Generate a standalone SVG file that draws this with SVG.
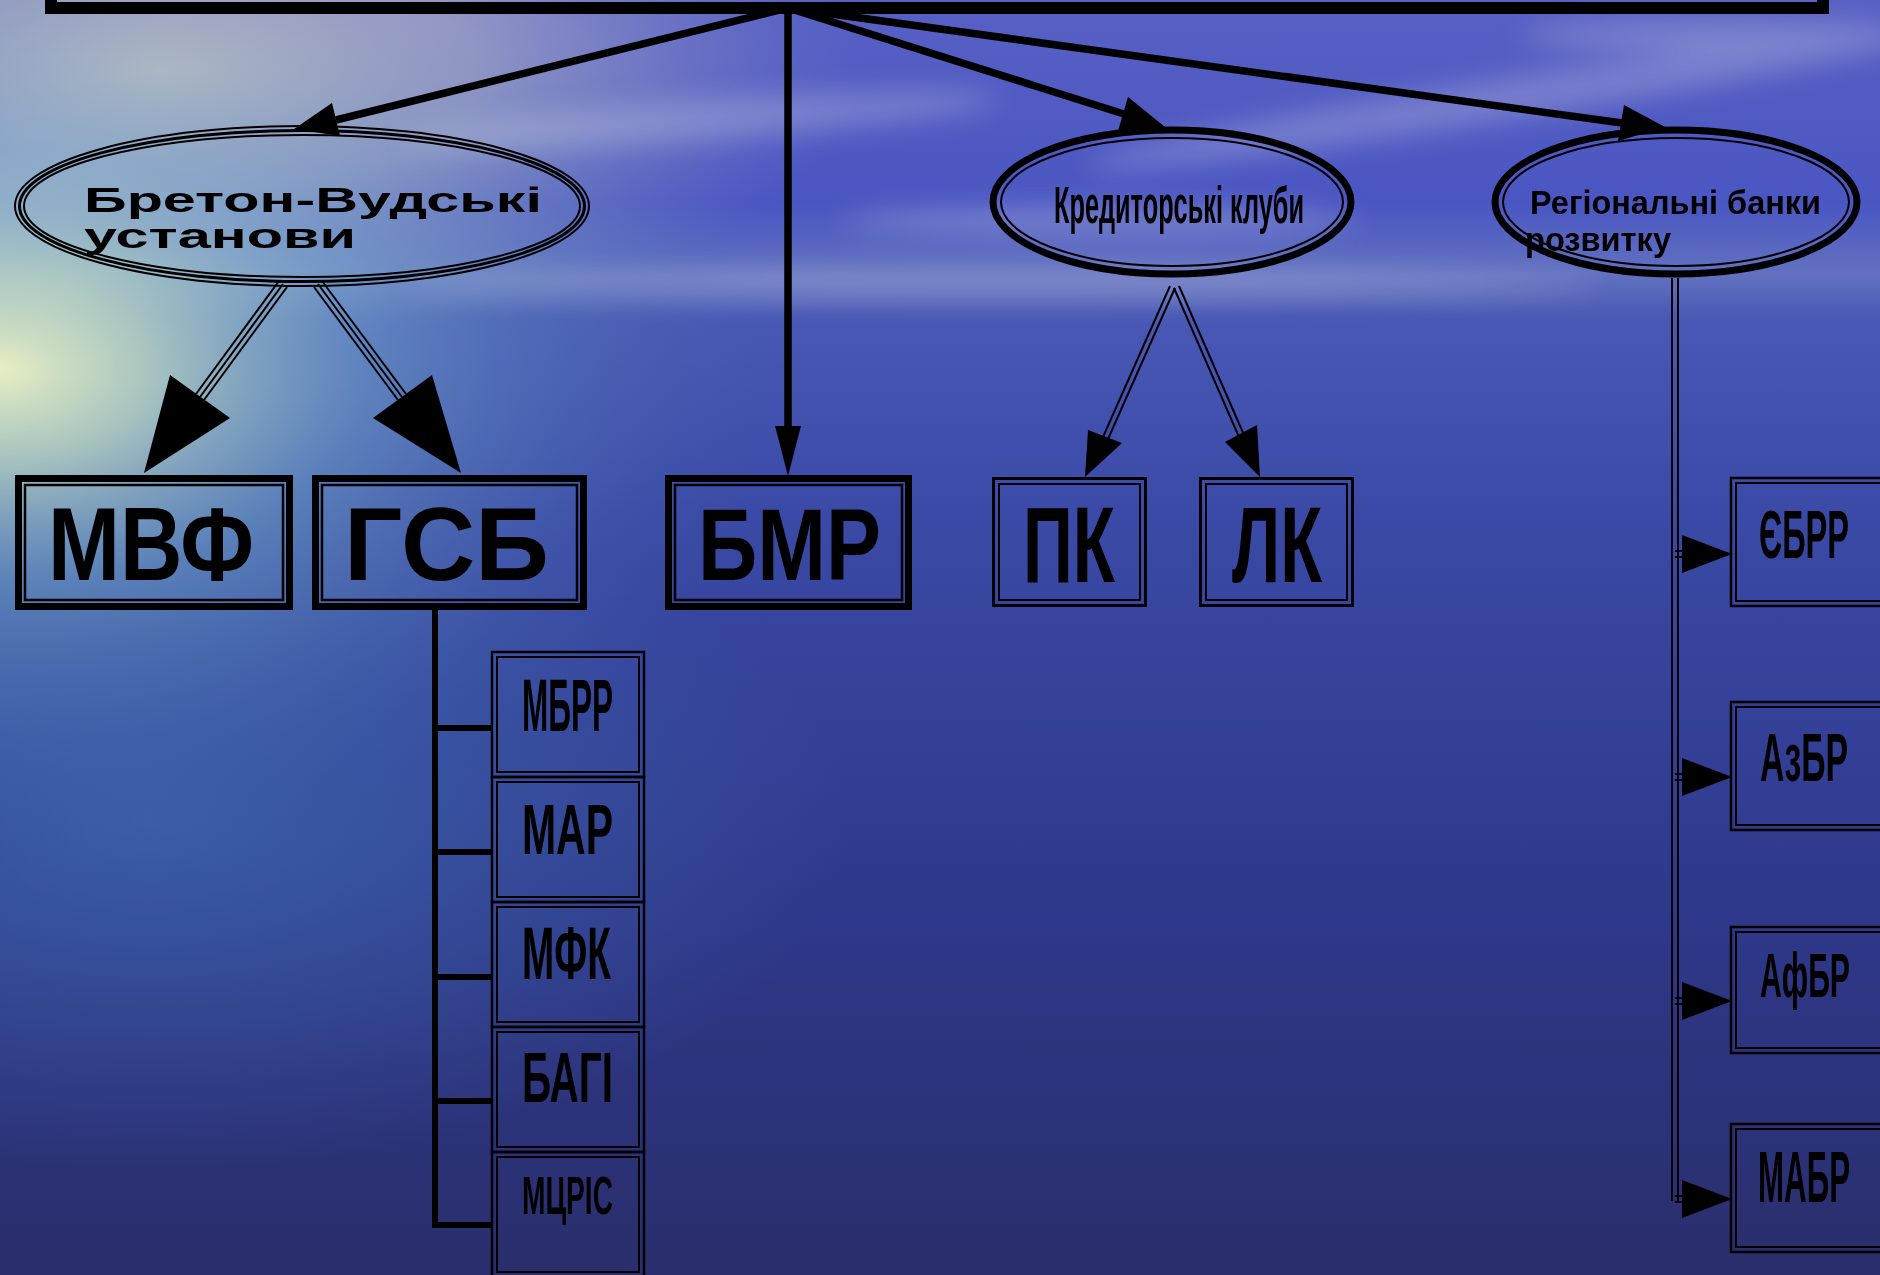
<svg xmlns="http://www.w3.org/2000/svg" width="1880" height="1275" viewBox="0 0 1880 1275">
<defs>
<linearGradient id="bgV" x1="0" y1="0" x2="0" y2="1275" gradientUnits="userSpaceOnUse">
 <stop offset="0" stop-color="#5860c4"/>
 <stop offset="0.16" stop-color="#4a56c2"/>
 <stop offset="0.215" stop-color="#6272c0"/>
 <stop offset="0.25" stop-color="#4858b4"/>
 <stop offset="0.4" stop-color="#3a4aa6"/>
 <stop offset="0.7" stop-color="#2f398c"/>
 <stop offset="1" stop-color="#2a2e6c"/>
</linearGradient>
<radialGradient id="glow" cx="0" cy="0" r="800" gradientUnits="userSpaceOnUse" gradientTransform="translate(0,370) scale(1,0.6)">
 <stop offset="0" stop-color="#f0f6c4" stop-opacity="0.95"/>
 <stop offset="0.18" stop-color="#c4e2c4" stop-opacity="0.8"/>
 <stop offset="0.45" stop-color="#7ab2cc" stop-opacity="0.5"/>
 <stop offset="1" stop-color="#4060b0" stop-opacity="0"/>
</radialGradient>
<radialGradient id="skyL" cx="0" cy="0" r="700" gradientUnits="userSpaceOnUse" gradientTransform="translate(160,70) scale(1,0.4)">
 <stop offset="0" stop-color="#cfcac4" stop-opacity="0.97"/>
 <stop offset="0.45" stop-color="#b4b4c6" stop-opacity="0.7"/>
 <stop offset="1" stop-color="#8088c8" stop-opacity="0"/>
</radialGradient>
<radialGradient id="seaL" cx="0" cy="0" r="700" gradientUnits="userSpaceOnUse" gradientTransform="translate(150,820) scale(1,0.5)">
 <stop offset="0" stop-color="#3f6cb0" stop-opacity="0.7"/>
 <stop offset="1" stop-color="#3f6cb0" stop-opacity="0"/>
</radialGradient>
<filter id="blur" x="-50%" y="-50%" width="200%" height="200%"><feGaussianBlur stdDeviation="14"/></filter>
<style>
 .t{font-family:"Liberation Sans",Arial,sans-serif;font-weight:bold;fill:#000}
 .thick{fill:none;stroke:#000;stroke-width:7}
 .thin{fill:none;stroke:#000;stroke-width:2.5}
 .hair{fill:none;stroke:#000;stroke-width:2}
 .ln{stroke:#000;stroke-width:7.5;fill:none}
 .ln2{stroke:#000;stroke-width:2;fill:none}
 .ln6{stroke:#000;stroke-width:6;fill:none}
 .ah{fill:#000;stroke:none}
</style>
</defs>

<!-- background -->
<rect x="0" y="0" width="1880" height="1275" fill="url(#bgV)"/>
<rect x="0" y="0" width="1880" height="1275" fill="url(#skyL)"/>
<rect x="0" y="0" width="1880" height="1275" fill="url(#seaL)"/>
<rect x="0" y="0" width="1880" height="1275" fill="url(#glow)"/>
<g filter="url(#blur)" fill="#d8d8e8" opacity="0.3">
 <ellipse cx="1500" cy="100" rx="420" ry="20" transform="rotate(-9 1500 100)"/>
 <ellipse cx="700" cy="120" rx="300" ry="20" transform="rotate(-4 700 120)"/>
 <ellipse cx="1000" cy="285" rx="600" ry="14"/>
 <ellipse cx="1720" cy="35" rx="200" ry="16"/>
 <ellipse cx="1100" cy="220" rx="260" ry="14"/>
</g>

<!-- top box (cut off) -->
<g id="top">
 <rect x="51" y="-100" width="1772" height="108" fill="none" stroke="#000" stroke-width="12"/>
</g>

<!-- connectors -->
<g id="connectors">
 <!-- from top box -->
 <line class="ln" x1="788" y1="8" x2="336" y2="120"/>
 <polygon class="ah" points="294,129 332,103 340,136"/>
 <line class="ln" x1="788" y1="8" x2="788" y2="430"/>
 <polygon class="ah" points="788,476 775,426 801,426"/>
 <line class="ln" x1="788" y1="8" x2="1124" y2="114"/>
 <polygon class="ah" points="1165,127 1128,97 1118,131"/>
 <line class="ln" x1="788" y1="8" x2="1622" y2="123"/>
 <polygon class="ah" points="1665,127 1624,105 1618,141"/>

 <!-- Bretton-Woods to МВФ (triple) -->
 <line class="ln2" x1="283" y1="284" x2="200" y2="397"/>
 <line class="ln2" x1="287" y1="287" x2="204" y2="400"/>
 <line class="ln2" x1="279" y1="281" x2="196" y2="394"/>
 <polygon class="ah" points="144,473 170,375 230,418"/>
 <!-- Bretton-Woods to ГСБ (triple) -->
 <line class="ln2" x1="318" y1="284" x2="402" y2="397"/>
 <line class="ln2" x1="322" y1="281" x2="406" y2="394"/>
 <line class="ln2" x1="314" y1="287" x2="398" y2="400"/>
 <polygon class="ah" points="461,473 432,375 373,418"/>

 <!-- Кредиторські клуби to ПК / ЛК (double) -->
 <line class="ln2" x1="1170" y1="286" x2="1103" y2="437"/>
 <line class="ln2" x1="1175" y1="288" x2="1108" y2="439"/>
 <polygon class="ah" points="1085,477 1088,430 1122,443"/>
 <line class="ln2" x1="1174" y1="288" x2="1239" y2="437"/>
 <line class="ln2" x1="1179" y1="286" x2="1244" y2="435"/>
 <polygon class="ah" points="1260,477 1225,442 1257,425"/>

 <!-- ГСБ list bracket -->
 <line class="ln6" x1="435" y1="610" x2="435" y2="1228"/>
 <line class="ln6" x1="432" y1="728" x2="493" y2="728"/>
 <line class="ln6" x1="432" y1="852" x2="493" y2="852"/>
 <line class="ln6" x1="432" y1="977" x2="493" y2="977"/>
 <line class="ln6" x1="432" y1="1101" x2="493" y2="1101"/>
 <line class="ln6" x1="432" y1="1225" x2="493" y2="1225"/>

 <!-- Regional banks vertical (double) -->
 <line class="ln2" x1="1672" y1="278" x2="1672" y2="1201"/>
 <line class="ln2" x1="1678" y1="278" x2="1678" y2="1201"/>
 <g>
  <line class="ln2" x1="1675" y1="551" x2="1684" y2="551"/><line class="ln2" x1="1675" y1="557" x2="1684" y2="557"/>
  <polygon class="ah" points="1682,535 1682,573 1732,554"/>
  <line class="ln2" x1="1675" y1="774" x2="1684" y2="774"/><line class="ln2" x1="1675" y1="780" x2="1684" y2="780"/>
  <polygon class="ah" points="1682,758 1682,796 1732,777"/>
  <line class="ln2" x1="1675" y1="998" x2="1684" y2="998"/><line class="ln2" x1="1675" y1="1004" x2="1684" y2="1004"/>
  <polygon class="ah" points="1682,982 1682,1020 1732,1001"/>
  <line class="ln2" x1="1675" y1="1196" x2="1684" y2="1196"/><line class="ln2" x1="1675" y1="1202" x2="1684" y2="1202"/>
  <polygon class="ah" points="1682,1180 1682,1218 1732,1199"/>
 </g>
</g>

<!-- ellipses -->
<g id="bretton">
 <ellipse cx="302" cy="206" rx="287" ry="80" class="hair"/>
 <ellipse cx="302" cy="206" rx="282.5" ry="75.5" fill="none" stroke="#000" stroke-width="3"/>
 <ellipse cx="302" cy="206" rx="278" ry="71" class="hair"/>
 <text class="t" x="84" y="212" font-size="35" textLength="458" lengthAdjust="spacingAndGlyphs">Бретон-Вудські</text>
 <text class="t" x="84" y="248" font-size="35" textLength="272" lengthAdjust="spacingAndGlyphs">установи</text>
</g>
<g id="kredytorski">
 <ellipse cx="1172" cy="202" rx="179" ry="72" fill="none" stroke="#000" stroke-width="7"/>
 <ellipse cx="1172" cy="202" rx="171" ry="64" class="hair"/>
 <text class="t" x="1054" y="223" font-size="51" textLength="250" lengthAdjust="spacingAndGlyphs">Кредиторські клуби</text>
</g>
<g id="regionalni">
 <ellipse cx="1676" cy="202" rx="181" ry="72" fill="none" stroke="#000" stroke-width="7"/>
 <ellipse cx="1676" cy="202" rx="173" ry="64" class="hair"/>
 <text class="t" x="1530" y="214" font-size="33" textLength="291" lengthAdjust="spacingAndGlyphs">Регіональні банки</text>
 <text class="t" x="1525" y="251" font-size="33" textLength="146" lengthAdjust="spacingAndGlyphs">розвитку</text>
</g>

<!-- first-row boxes -->
<g id="mvf">
 <rect x="18.5" y="478.5" width="271" height="128" class="thick"/>
 <rect x="25" y="485" width="258" height="115" class="thin"/>
 <text class="t" x="48" y="580" font-size="104" textLength="206" lengthAdjust="spacingAndGlyphs">МВФ</text>
</g>
<g id="gsb">
 <rect x="315.5" y="478.5" width="268" height="128" class="thick"/>
 <rect x="322" y="485" width="255" height="115" class="thin"/>
 <text class="t" x="344" y="580" font-size="104" textLength="205" lengthAdjust="spacingAndGlyphs">ГСБ</text>
</g>
<g id="bmr">
 <rect x="668.5" y="478.5" width="240" height="128" class="thick"/>
 <rect x="675" y="485" width="227" height="115" class="thin"/>
 <text class="t" x="698" y="580" font-size="102" textLength="183" lengthAdjust="spacingAndGlyphs">БМР</text>
</g>
<g id="pk">
 <rect x="993.5" y="478.5" width="152" height="127" fill="none" stroke="#000" stroke-width="3"/>
 <rect x="999" y="484" width="141" height="116" class="hair"/>
 <text class="t" x="1023" y="582" font-size="107" textLength="92" lengthAdjust="spacingAndGlyphs">ПК</text>
</g>
<g id="lk">
 <rect x="1200.5" y="478.5" width="152" height="127" fill="none" stroke="#000" stroke-width="3"/>
 <rect x="1206" y="484" width="141" height="116" class="hair"/>
 <text class="t" x="1232" y="582" font-size="107" textLength="90" lengthAdjust="spacingAndGlyphs">ЛК</text>
</g>

<!-- ГСБ members -->
<g id="mbrr">
 <rect x="492" y="652" width="152" height="125" class="thin"/>
 <rect x="497" y="657" width="142" height="115" class="hair"/>
 <text class="t" x="522" y="731" font-size="74" textLength="91" lengthAdjust="spacingAndGlyphs">МБРР</text>
</g>
<g id="mar">
 <rect x="492" y="777" width="152" height="125" class="thin"/>
 <rect x="497" y="782" width="142" height="115" class="hair"/>
 <text class="t" x="522" y="854" font-size="71" textLength="91" lengthAdjust="spacingAndGlyphs">МАР</text>
</g>
<g id="mfk">
 <rect x="492" y="902" width="152" height="125" class="thin"/>
 <rect x="497" y="907" width="142" height="115" class="hair"/>
 <text class="t" x="522" y="979" font-size="74" textLength="89" lengthAdjust="spacingAndGlyphs">МФК</text>
</g>
<g id="bagi">
 <rect x="492" y="1027" width="152" height="125" class="thin"/>
 <rect x="497" y="1032" width="142" height="115" class="hair"/>
 <text class="t" x="522" y="1102" font-size="70" textLength="91" lengthAdjust="spacingAndGlyphs">БАГІ</text>
</g>
<g id="mtsris">
 <rect x="492" y="1152" width="152" height="125" class="thin"/>
 <rect x="497" y="1157" width="142" height="115" class="hair"/>
 <text class="t" x="522" y="1214" font-size="54" textLength="91" lengthAdjust="spacingAndGlyphs">МЦРІС</text>
</g>

<!-- regional banks (boxes run past the right edge) -->
<g id="yebrr">
 <rect x="1731" y="478" width="160" height="128" class="thin"/>
 <rect x="1736" y="483" width="150" height="118" class="hair"/>
 <text class="t" x="1759" y="558" font-size="68" textLength="90" lengthAdjust="spacingAndGlyphs">ЄБРР</text>
</g>
<g id="azbr">
 <rect x="1731" y="702" width="160" height="128" class="thin"/>
 <rect x="1736" y="707" width="150" height="118" class="hair"/>
 <text class="t" x="1760" y="781" font-size="68" textLength="88" lengthAdjust="spacingAndGlyphs">АзБР</text>
</g>
<g id="afbr">
 <rect x="1731" y="927" width="160" height="126" class="thin"/>
 <rect x="1736" y="932" width="150" height="116" class="hair"/>
 <text class="t" x="1760" y="997" font-size="63" textLength="90" lengthAdjust="spacingAndGlyphs">АфБР</text>
</g>
<g id="mabr">
 <rect x="1731" y="1124" width="160" height="128" class="thin"/>
 <rect x="1736" y="1129" width="150" height="118" class="hair"/>
 <text class="t" x="1758" y="1202" font-size="72" textLength="92" lengthAdjust="spacingAndGlyphs">МАБР</text>
</g>
</svg>
